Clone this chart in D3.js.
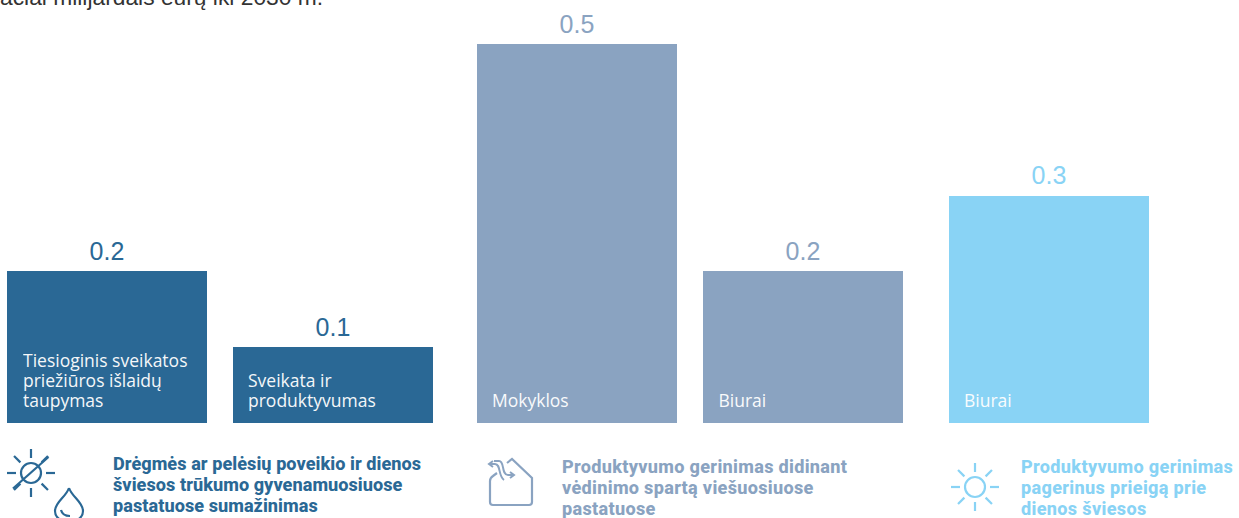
<!DOCTYPE html>
<html lang="lt">
<head>
<meta charset="UTF-8">
<title>Nauda</title>
<script src="https://d3js.org/d3.v7.min.js"></script>
<style>
    html, body { margin: 0; padding: 0; background: #fff; overflow: hidden; }
    svg { display: block; }
    .value { font: 25px "Liberation Sans", sans-serif; text-anchor: middle; }
    .bar-label { font: 17.5px "Open Sans", sans-serif; fill: #fff; opacity: .95; }
    .caption { font: 800 18.1px "Roboto", sans-serif; }
    .top-note { font: 22.8px "Liberation Sans", sans-serif; fill: #333; }
</style>
</head>
<body>
<div id="chart"></div>
<script>
// values
const categories = ["sveikata", "produktyvumas", "mokyklos", "biurai-vent", "biurai-sviesa"];
const values = [0.2, 0.1, 0.5, 0.2, 0.3];
const groups = [0, 0, 1, 1, 2];
const barLabels = [
    ["Tiesioginis sveikatos", "priežiūros išlaidų", "taupymas"],
    ["Sveikata ir", "produktyvumas"],
    ["Mokyklos"],
    ["Biurai"],
    ["Biurai"]
];
const groupColors = ["#2a6895", "#8aa3c1", "#89d3f5"];
const captions = [
    ["Drėgmės ar pelėsių poveikio ir dienos", "šviesos trūkumo gyvenamuosiuose", "pastatuose sumažinimas"],
    ["Produktyvumo gerinimas didinant", "vėdinimo spartą viešuosiuose", "pastatuose"],
    ["Produktyvumo gerinimas", "pagerinus prieigą prie", "dienos šviesos"]
];
const topNote = "aciai milijardais eurų iki 2030 m.";

const width = 1239, height = 518, baseline = 423;

const svg = d3.select("#chart").append("svg")
    .attr("width", width)
    .attr("height", height);

const x = d3.scaleBand()
    .domain(categories)
    .range([7, 1111])
    .paddingInner(26 / 226);

// extra space between the three groups
const groupShift = d3.scaleOrdinal().domain([0, 1, 2]).range([0, 18, 38]);

const y = d3.scaleLinear().domain([0, 0.5]).range([baseline, 44]);

const color = d3.scaleOrdinal().domain([0, 1, 2]).range(groupColors);

const barX = i => x(categories[i]) + groupShift(groups[i]);

svg.append("text")
    .attr("class", "top-note")
    .attr("x", 0)
    .attr("y", 5)
    .text(topNote);

// Bars
svg.selectAll("rect.bar")
    .data(values)
    .enter()
    .append("rect")
    .attr("class", "bar")
    .attr("x", (d, i) => barX(i))
    .attr("y", d => Math.round(y(d)))
    .attr("width", x.bandwidth())
    .attr("height", d => baseline - Math.round(y(d)))
    .attr("fill", (d, i) => color(groups[i]));

// Value labels
svg.selectAll("text.value")
    .data(values)
    .enter()
    .append("text")
    .attr("class", "value")
    .attr("x", (d, i) => barX(i) + x.bandwidth() / 2)
    .attr("y", d => y(d) - 11.5)
    .attr("fill", (d, i) => color(groups[i]))
    .text(d => d.toFixed(1));

// Labels inside the bars, last line sits on the same baseline
barLabels.forEach((lines, i) => {
    const inset = [16, 15, 15, 15.5, 15][i];
    svg.append("text")
        .attr("class", "bar-label")
        .selectAll("tspan")
        .data(lines)
        .enter()
        .append("tspan")
        .attr("x", barX(i) + inset)
        .attr("y", (d, j) => 407 - (lines.length - 1 - j) * 20)
        .text(d => d);
});

// Captions under the groups
const captionX = [113, 562, 1021];
const captionY = [470, 473, 473];
const captionSpacing = [0.05, 0.3, 0.32];
captions.forEach((lines, i) => {
    svg.append("text")
        .attr("class", "caption")
        .attr("fill", groupColors[i])
        .attr("letter-spacing", captionSpacing[i])
        .selectAll("tspan")
        .data(lines)
        .enter()
        .append("tspan")
        .attr("x", captionX[i])
        .attr("y", (d, j) => captionY[i] + j * 21)
        .text(d => d);
});

// Sun icon: circle and eight rays
function sun(cx, cy, r, inner, outer, stroke) {
    const g = svg.append("g")
        .attr("transform", `translate(${cx},${cy})`)
        .attr("fill", "none")
        .attr("stroke", stroke)
        .attr("stroke-width", 2.2);
    g.append("circle").attr("r", r);
    d3.range(8).forEach(k => {
        const a = k * Math.PI / 4;
        g.append("line")
            .attr("x1", inner * Math.cos(a))
            .attr("y1", inner * Math.sin(a))
            .attr("x2", outer * Math.cos(a))
            .attr("y2", outer * Math.sin(a));
    });
    return g;
}

const crossed = sun(31, 473, 10, 15, 24, groupColors[0]);
crossed.append("line").attr("x1", -18).attr("y1", 15.5).attr("x2", 17.5).attr("y2", -16);

// Water drop, cut by the bottom edge
svg.append("path")
    .attr("d", "M69 488 C66 497 55 502 55 511 C55 518 62 522 69 522 C76 522 83 518 83 511 C83 502 72 497 69 488 M61 510 C62 514 65 516 70 516")
    .attr("fill", "none")
    .attr("stroke", groupColors[0])
    .attr("stroke-width", 2.2);

// House with air flow
svg.append("path")
    .attr("d", "M497 473 L493 476 Q490 478 490 481 V502 Q490 505 493 505 H529 Q532 505 532 502 V478 L512 459 L507 463")
    .attr("fill", "none")
    .attr("stroke", groupColors[1])
    .attr("stroke-width", 2.2);
svg.append("path")
    .attr("d", "M490 464 H495 C501 464 498 476 504 480 M494 461 H499 C505 461 501 475 508 475 H514 M493 461 L489 464 L493 467 M510 472 L514 475 L510 478")
    .attr("fill", "none")
    .attr("stroke", groupColors[1])
    .attr("stroke-width", 2);

sun(975, 487, 10, 15, 24, groupColors[2]);
</script>
</body>
</html>
